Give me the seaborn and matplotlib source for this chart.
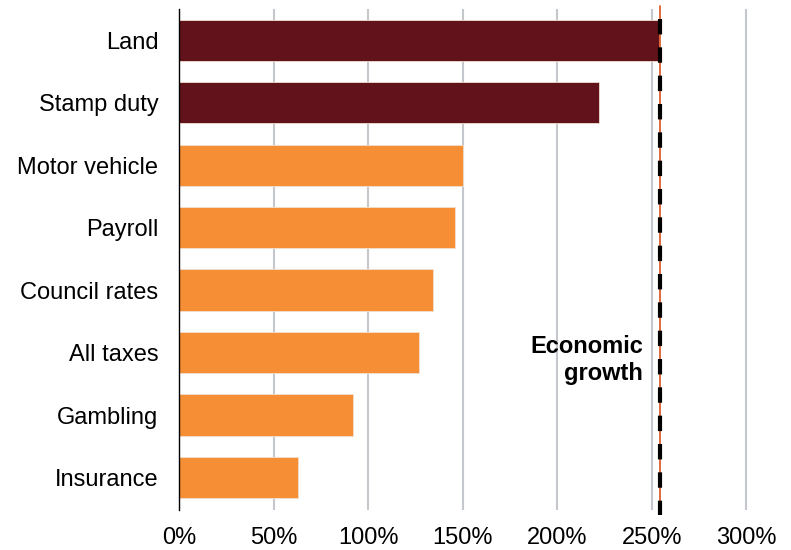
import matplotlib
matplotlib.use("Agg")
import matplotlib.pyplot as plt
import seaborn as sns
import pandas as pd
from matplotlib.ticker import FuncFormatter

categories = ["Land", "Stamp duty", "Motor vehicle", "Payroll", "Council rates",
              "All taxes", "Gambling", "Insurance"]
values = [254, 222, 150, 146, 134, 127, 92, 63]
groups = ["dark", "dark", "light", "light", "light", "light", "light", "light"]
growth = 254.5
xticks = [0, 50, 100, 150, 200, 250, 300]

sns.set_theme(style="white")
plt.rcParams['font.family'] = ['Liberation Sans', 'DejaVu Sans']

df = pd.DataFrame({"cat": categories, "val": values, "grp": groups})
palette = {"dark": "#62121a", "light": "#f68e35"}

fig = plt.figure(figsize=(7.91, 5.5), dpi=100)
x0, x300 = 179.3, 746.3
top, bottom = 9, 510
ax = fig.add_axes([x0/791, 1-bottom/550, (x300-x0)/791*320/300, (bottom-top)/550])

sns.barplot(data=df, x="val", y="cat", hue="grp", palette=palette, dodge=False,
            width=0.66, ax=ax, legend=False, edgecolor="#f0e0d0", linewidth=0.6,
            saturation=1, zorder=3)

ax.set_xlim(0, 320)
ax.set_ylim(7.52, -0.5)
ax.set_xticks(xticks)
ax.xaxis.set_major_formatter(FuncFormatter(lambda v, p: f"{v:.0f}%"))
ax.grid(axis="x", color="#c4c8cc", linewidth=1.5, zorder=0)
ax.grid(axis="y", visible=False)
for s in ["top", "right", "bottom"]:
    ax.spines[s].set_visible(False)
ax.spines["left"].set_color("black")
ax.spines["left"].set_linewidth(1.0)
ax.spines["left"].set_zorder(4)
ax.set_xlabel("")
ax.set_ylabel("")
ax.tick_params(axis="x", labelsize=17, length=0, pad=12, colors="black")
ax.tick_params(axis="y", labelsize=17, length=0, pad=15, colors="black")

ax.plot([growth, growth], [-0.55, 7.52], color="#d9531e", linewidth=1.2,
        zorder=5, clip_on=False)
ax.plot([growth, growth], [-0.34, 7.6], color="black", linewidth=3.0,
        dashes=(3.7, 3.1), zorder=6, clip_on=False,
        solid_capstyle="butt", dash_capstyle="butt")

ax.text(245.5, 5.12, "Economic\ngrowth", ha="right", va="center",
        fontsize=17, fontweight="bold", color="black", linespacing=1.25)

fig.savefig("out.png", dpi=100)
